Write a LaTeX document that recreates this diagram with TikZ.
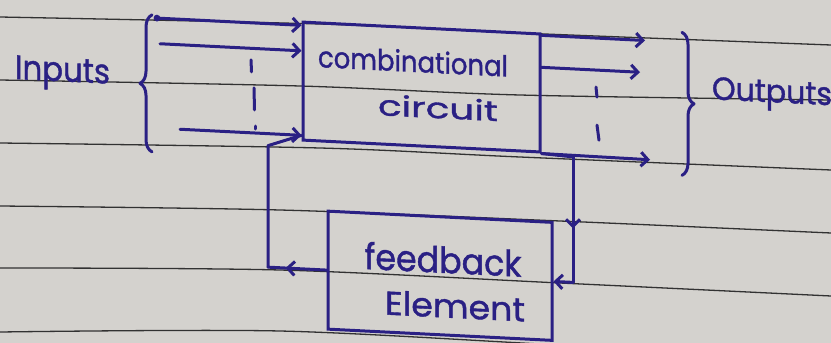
\documentclass[tikz,border=0pt]{standalone}
\usepackage{fontspec}
\usepackage{graphicx}
\newfontfamily\handfont[FakeBold=1.2]{Poppins}
\usetikzlibrary{arrows.meta,decorations.pathreplacing,decorations.markings}
\definecolor{paper}{RGB}{212,210,206}
\definecolor{ruling}{RGB}{50,50,50}
\definecolor{ink}{RGB}{42,32,132}
% hand lettering: #1 target width (pt), #2 font size (pt), #3 text
\newcommand\handtext[3]{\resizebox{#1pt}{\height}{\fontsize{#2}{#2}\selectfont #3}}
\begin{document}
\begin{tikzpicture}[x=1pt,y=-1pt,
  inkline/.style={draw=ink,line width=3pt,line cap=round,line join=round},
  arr/.style={inkline,-{Straight Barb[length=7pt,width=14pt]}},
  box/.style={draw=ink,line width=3pt,rectangle,inner sep=0pt},
  hand/.style={text=ink,font=\handfont,inner sep=0pt,anchor=base},
  bracket/.style={inkline,decorate,decoration={brace,amplitude=12pt}},
  midarrow/.style={postaction={decorate},decoration={markings,
      mark=at position #1 with {\arrow{Straight Barb[length=7pt,width=14pt]}}}},
  ruled/.style={draw=ruling,line width=1.3pt}]
\useasboundingbox (0,0) rectangle (831,343);
\fill[paper] (0,0) rectangle (831,343);

% ruled lines of the notebook page
\draw[ruled] plot[smooth] coordinates {(0,17) (320,24) (520,33) (831,45)};
\draw[ruled] plot[smooth] coordinates {(0,80) (300,86) (520,95) (831,100)};
\draw[ruled] plot[smooth] coordinates {(0,143) (320,148) (520,157) (831,170)};
\draw[ruled] plot[smooth] coordinates {(0,206) (280,210) (560,221) (831,233)};
\draw[ruled] plot[smooth] coordinates {(0,268) (280,270) (560,283) (831,296)};
\draw[ruled] plot[smooth] coordinates {(0,332) (280,331) (560,345) (831,358)};

\begin{scope}[yshift=20.75pt, cm={1,-0.05,0,1,(0,0)}, transform shape]
  % blocks
  \node[box, minimum width=237pt, minimum height=118pt] (comb) at (421.5,86.7) {};
  \node[box, minimum width=224pt, minimum height=118pt] (fb) at (440,274.5) {};

  % lettering (placed on its baseline)
  \node[hand] (combA) at (413,72) {\handtext{190}{29}{combinational}};
  \node[hand] (combB) at (438,117) {\handtext{120}{28}{circuit}};
  \node[hand] (fbA) at (443,271.5) {\handtext{157}{36}{feedback}};
  \node[hand] (fbB) at (455,316) {\handtext{140}{33}{Element}};
  \node[hand] (inlabel) at (62.5,99) {\handtext{95}{34}{Inputs}};
  \node[hand] (outlabel) at (772,84.5) {\handtext{120}{32}{Outputs}};

  % input lines
  \coordinate (i1) at (157,31);
  \coordinate (i2) at (160,56.5);
  \coordinate (i3) at (180,141);
  \fill[ink] (i1) circle (3.4pt);
  \draw[arr] (i1) -- (i1 -| comb.west);
  \draw[arr] (i2) -- (i2 -| comb.west);
  \draw[arr] (i3) -- (i3 -| comb.west);
  \draw[inkline] (251,68) -- (251.5,80);
  \draw[inkline] (254,96) -- (254.5,118);
  \draw[inkline] (255,134) -- (255,137);
  \draw[bracket] (152,165) -- (152,28);

  % output lines
  \coordinate (o1) at (645,29);
  \coordinate (o2) at (640,61);
  \coordinate (o3) at (650,148);
  \draw[arr] (o1 -| comb.east) -- (o1);
  \draw[arr] (o2 -| comb.east) -- (o2);
  \draw[arr] (comb.south east) -- (o3);
  \draw[inkline] (596,78) -- (597,88);
  \draw[inkline] (597,116) -- (599,131);
  \draw[bracket] (682,19) -- (682,162);

  % feedback loop
  \coordinate (fr1) at (573,149);
  \coordinate (fr2) at (573,274.5);
  \coordinate (fl1) at (268,274.5);
  \coordinate (fl2) at (268,153);
  \draw[inkline] (comb.south east) -- (fr1);
  \draw[inkline, midarrow=0.57] (fr1) -- (fr2);
  \draw[arr] (fr2) -- (fb.east);
  \draw[inkline, midarrow=0.7] (fb.west) -- (fl1);
  \draw[inkline] (fl1) -- (fl2) -- (i3 -| comb.west);
\end{scope}
\end{tikzpicture}
\end{document}
